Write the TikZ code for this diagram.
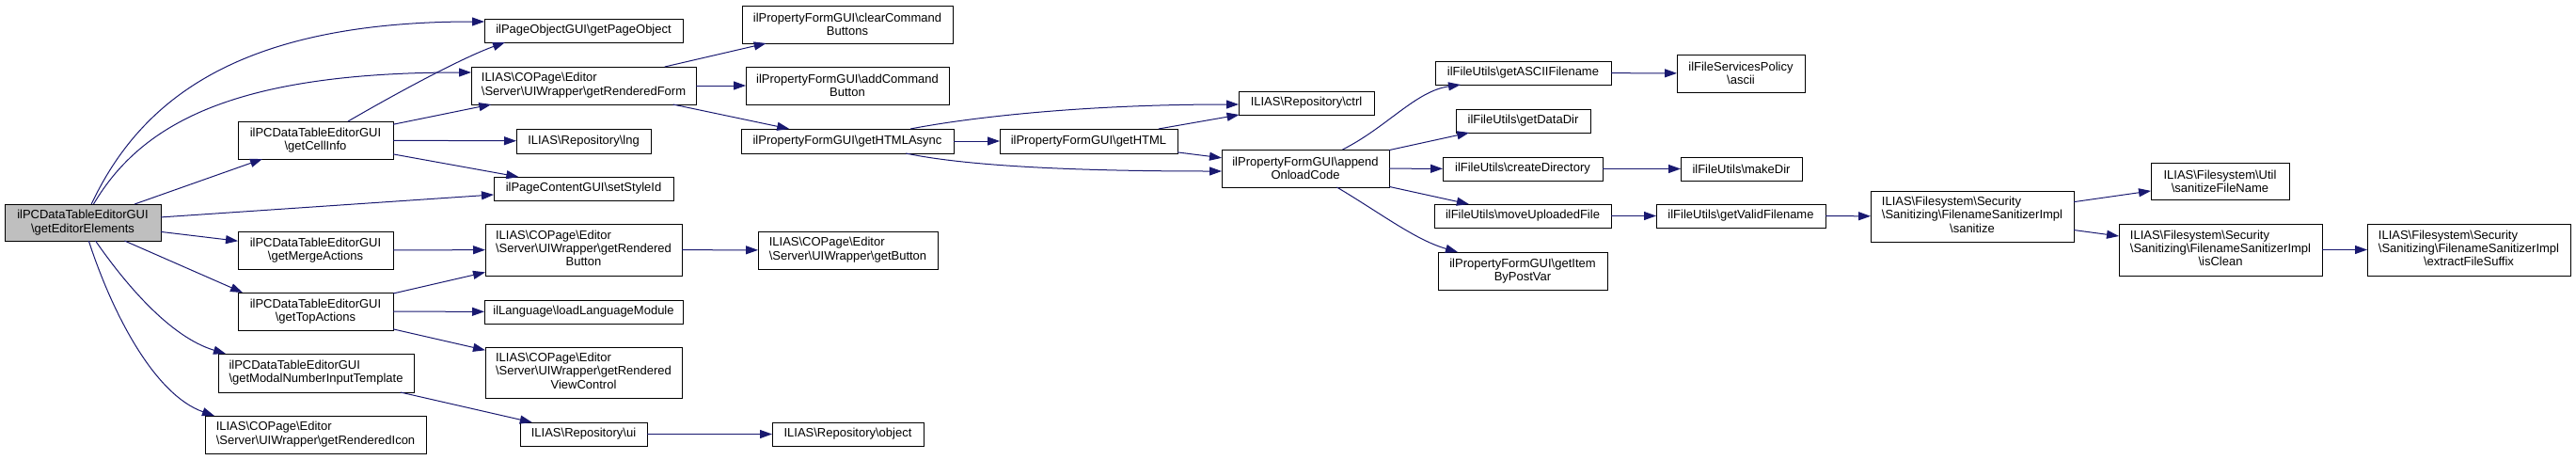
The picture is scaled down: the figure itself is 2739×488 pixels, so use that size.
\documentclass[tikz,border=0pt]{standalone}
\usepackage{fontspec}
\setmainfont{Liberation Sans}
\usetikzlibrary{arrows.meta}
\definecolor{edgeblue}{RGB}{25,25,112}
\def\bsl{\textbackslash}
\newcommand\lines[1]{\begin{tabular}{@{}l@{}}#1\end{tabular}}
\newcommand\lastline[1]{\multicolumn{1}{@{}c@{}}{#1}}
\newcommand\callbox[7][]{\node[fn,#1,minimum width={(#5-#3)*1pt},minimum height={(#6-#4)*1pt}] (#2) at ({(#3+#5)/2},{(#4+#6)/2}) {#7};}

\begin{document}
\begin{tikzpicture}[x=1pt,y=-1pt,
		fn/.style={draw=black,fill=white,line width=1pt,inner sep=1pt,outer sep=0pt,align=center,font=\fontsize{13}{14.3}\selectfont},
		call/.style={draw=edgeblue,line width=1pt,-{Triangle[length=13pt,width=9pt]}}]
		%%%%% START %%%%%
		
		\useasboundingbox (0,0) rectangle (2739,488);
		
		\callbox[fill=black!25]{main}{5}{217}{171}{256}{ilPCDataTableEditorGUI\\\bsl getEditorElements}
		
		\callbox{cellinfo}{253}{129}{418}{169}{ilPCDataTableEditorGUI\\\bsl getCellInfo}
		\callbox{merge}{253}{246}{418}{286}{ilPCDataTableEditorGUI\\\bsl getMergeActions}
		\callbox{top}{253}{311}{418}{351}{ilPCDataTableEditorGUI\\\bsl getTopActions}
		\callbox{modal}{232}{376}{440}{417}{\lines{ilPCDataTableEditorGUI\\\bsl getModalNumberInputTemplate}}
		\callbox{icon}{218}{442}{453}{482}{\lines{ILIAS\bsl COPage\bsl Editor\\\bsl Server\bsl UIWrapper\bsl getRenderedIcon}}
		
		\callbox{pageobj}{515}{20}{726}{45}{ilPageObjectGUI\bsl getPageObject}
		\callbox{form}{501}{71}{740}{111}{\lines{ILIAS\bsl COPage\bsl Editor\\\bsl Server\bsl UIWrapper\bsl getRenderedForm}}
		\callbox{lng}{549}{137}{692}{163}{ILIAS\bsl Repository\bsl lng}
		\callbox{style}{525}{188}{716}{213}{ilPageContentGUI\bsl setStyleId}
		\callbox{button}{516}{238}{725}{293}{\lines{ILIAS\bsl COPage\bsl Editor\\\bsl Server\bsl UIWrapper\bsl getRendered\\\lastline{Button}}}
		\callbox{langmod}{515}{319}{726}{344}{ilLanguage\bsl loadLanguageModule}
		\callbox{viewctrl}{516}{369}{725}{423}{\lines{ILIAS\bsl COPage\bsl Editor\\\bsl Server\bsl UIWrapper\bsl getRendered\\\lastline{ViewControl}}}
		\callbox{ui}{553}{449}{688}{474}{ILIAS\bsl Repository\bsl ui}
		
		\callbox{getbutton}{806}{246}{997}{286}{\lines{ILIAS\bsl COPage\bsl Editor\\\bsl Server\bsl UIWrapper\bsl getButton}}
		\callbox{object}{821}{449}{982}{474}{ILIAS\bsl Repository\bsl object}
		\callbox{clear}{789}{6}{1013}{46}{ilPropertyFormGUI\bsl clearCommand\\Buttons}
		\callbox{add}{793}{71}{1009}{111}{ilPropertyFormGUI\bsl addCommand\\Button}
		\callbox{async}{788}{137}{1014}{163}{ilPropertyFormGUI\bsl getHTMLAsync}
		\callbox{html}{1063}{137}{1252}{163}{ilPropertyFormGUI\bsl getHTML}
		\callbox{ctrl}{1317}{97}{1461}{122}{ILIAS\bsl Repository\bsl ctrl}
		\callbox{onload}{1299}{159}{1477}{199}{ilPropertyFormGUI\bsl append\\OnloadCode}
		
		\callbox{asciifn}{1526}{65}{1713}{90}{ilFileUtils\bsl getASCIIFilename}
		\callbox{datadir}{1548}{116}{1691}{141}{ilFileUtils\bsl getDataDir}
		\callbox{createdir}{1534}{167}{1704}{192}{ilFileUtils\bsl createDirectory}
		\callbox{moveup}{1525}{217}{1713}{242}{ilFileUtils\bsl moveUploadedFile}
		\callbox{postvar}{1529}{268}{1709}{308}{ilPropertyFormGUI\bsl getItem\\ByPostVar}
		\callbox{policy}{1783}{58}{1919}{98}{ilFileServicesPolicy\\\bsl ascii}
		\callbox{makedir}{1787}{167}{1916}{192}{ilFileUtils\bsl makeDir}
		\callbox{validfn}{1761}{217}{1941}{242}{ilFileUtils\bsl getValidFilename}
		
		\callbox{sanitize}{1989}{203}{2205}{257}{\lines{ILIAS\bsl Filesystem\bsl Security\\\bsl Sanitizing\bsl FilenameSanitizerImpl\\\lastline{\bsl sanitize}}}
		\callbox{sanfn}{2287}{173}{2434}{212}{ILIAS\bsl Filesystem\bsl Util\\\bsl sanitizeFileName}
		\callbox{isclean}{2253}{238}{2469}{293}{\lines{ILIAS\bsl Filesystem\bsl Security\\\bsl Sanitizing\bsl FilenameSanitizerImpl\\\lastline{\bsl isClean}}}
		\callbox{suffix}{2517}{238}{2733}{293}{\lines{ILIAS\bsl Filesystem\bsl Security\\\bsl Sanitizing\bsl FilenameSanitizerImpl\\\lastline{\bsl extractFileSuffix}}}
		
		% calls of getEditorElements
		\draw[call] (main) .. controls (150,105) and (255,23) .. (pageobj.west |- 0,23);
		\draw[call] (main) .. controls (152,128) and (255,77) .. (form.west |- 0,77);
		\draw[call] (main) -- (cellinfo);
		\draw[call] (main) -- (style);
		\draw[call] (main) -- (merge);
		\draw[call] (main) -- (top.north -| 258,0);
		\draw[call] (main) .. controls (132,300) and (180,358) .. (modal.north -| 240,0);
		\draw[call] (main) .. controls (120,335) and (165,420) .. (icon.north -| 228,0);
		
		\draw[call] (cellinfo) .. controls (420,100) and (490,62) .. (pageobj.south -| 537,0);
		\draw[call] (cellinfo) -- (form);
		\draw[call] (cellinfo) -- (lng);
		\draw[call] (cellinfo) -- (style);
		
		\draw[call] (merge) -- (button);
		\draw[call] (top) -- (button);
		\draw[call] (top) -- (langmod);
		\draw[call] (top) -- (viewctrl);
		\draw[call] (modal) -- (ui);
		\draw[call] (button) -- (getbutton);
		\draw[call] (ui) -- (object);
		
		\draw[call] (form) -- (clear);
		\draw[call] (form) -- (add);
		\draw[call] (form) -- (async);
		
		\draw[call] (async) .. controls (1030,125) and (1150,111) .. (ctrl.west |- 0,111);
		\draw[call] (async) -- (html);
		\draw[call] (async) .. controls (1030,177) and (1150,182) .. (onload.west |- 0,182);
		\draw[call] (html) -- (ctrl);
		\draw[call] (html) -- (onload);
		
		% calls of appendOnloadCode
		\draw[call] (onload) .. controls (1475,135) and (1505,97) .. (asciifn.south -| 1553,0);
		\draw[call] (onload) -- (datadir);
		\draw[call] (onload) -- (createdir);
		\draw[call] (onload) -- (moveup);
		\draw[call] (onload) .. controls (1470,228) and (1505,255) .. (postvar.north -| 1550,0);
		
		\draw[call] (asciifn) -- (policy);
		\draw[call] (createdir) -- (makedir);
		\draw[call] (moveup) -- (validfn);
		\draw[call] (validfn) -- (sanitize);
		\draw[call] (sanitize) -- (sanfn);
		\draw[call] (sanitize) -- (isclean);
		\draw[call] (isclean) -- (suffix);
		
		%%%%% END %%%%%
	\end{tikzpicture}
\end{document}
